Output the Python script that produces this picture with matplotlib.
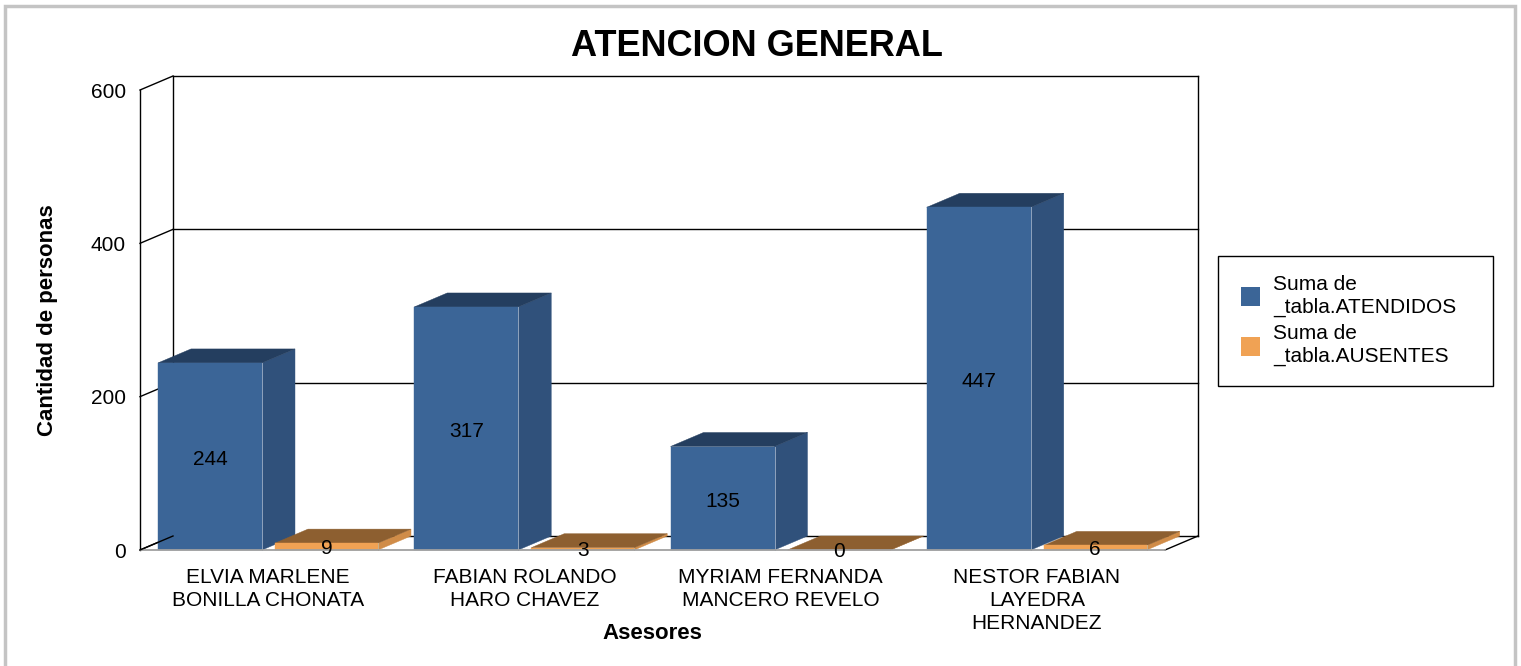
import matplotlib
matplotlib.use("Agg")
import matplotlib.pyplot as plt
from matplotlib.patches import Polygon, Rectangle

plt.rcParams['font.family'] = ['Liberation Sans', 'DejaVu Sans']

# datos
asesores = ['ELVIA MARLENE\nBONILLA CHONATA', 'FABIAN ROLANDO\nHARO CHAVEZ',
            'MYRIAM FERNANDA\nMANCERO REVELO', 'NESTOR FABIAN\nLAYEDRA\nHERNANDEZ']
atendidos = [244, 317, 135, 447]
ausentes = [9, 3, 0, 6]
yticks = [0, 200, 400, 600]
serie_nombres = ['Suma de\n_tabla.ATENDIDOS', 'Suma de\n_tabla.AUSENTES']

W, H = 1521, 666
fig = plt.figure(figsize=(W / 100, H / 100), dpi=100)
fig.patch.set_facecolor('white')

# marco gris exterior
fig.patches.append(Rectangle((5 / W, -0.05), 1510 / W, 1.05 - 6 / H, transform=fig.transFigure,
                             fill=False, edgecolor='#c4c4c4', linewidth=2.5))

ax = fig.add_axes([140 / W, 116 / H, 1025 / W, 460 / H])
ax.set_xlim(0, len(asesores))
ax.set_ylim(0, 600)
for s in ax.spines.values():
    s.set_visible(False)

# profundidad 3d (en unidades de datos)
DX = 33 / 256.25
DY = 14 / (460 / 600)
n = len(asesores)

# paredes y rejilla
lk = dict(color='black', linewidth=1.0, clip_on=False, zorder=1)
ax.plot([DX, DX], [DY, 600 + DY], **lk)
ax.plot([n + DX, n + DX], [DY, 600 + DY], **lk)
ax.plot([0, 0], [0, 600], **lk)
for v in yticks:
    ax.plot([DX, n + DX], [v + DY, v + DY], **lk)
    ax.plot([0, DX], [v, v + DY], **lk)
ax.plot([n, n + DX], [0, DY], **lk)


def caja(x0, w, h, c_front, c_side, c_top, c_edge, z):
    front = [(x0, 0), (x0 + w, 0), (x0 + w, h), (x0, h)]
    side = [(x0 + w, 0), (x0 + w + DX, DY), (x0 + w + DX, h + DY), (x0 + w, h)]
    top = [(x0, h), (x0 + w, h), (x0 + w + DX, h + DY), (x0 + DX, h + DY)]
    ax.add_patch(Polygon(side, closed=True, facecolor=c_side, edgecolor=c_side, lw=0.3, clip_on=False, zorder=z))
    ax.add_patch(Polygon(top, closed=True, facecolor=c_top, edgecolor=c_top, lw=0.3, clip_on=False, zorder=z))
    ax.add_patch(Polygon(front, closed=True, facecolor=c_front, edgecolor=c_front, lw=0.3, clip_on=False, zorder=z))
    ax.plot([x0 + w, x0 + w], [0, h], color=c_edge, lw=0.7, clip_on=False, zorder=z + 0.1)


azul = ('#3b6597', '#30517b', '#243e5f', '#8fa3bd')
naranja = ('#f0a254', '#d08c48', '#8d5f30', '#c9b08a')
wb, wo = 104 / 256.25, 103 / 256.25
for i in range(n):
    xb = i + 18 / 256.25
    xo = i + 135 / 256.25
    caja(xb, wb, atendidos[i], *azul, z=3 + i)
    caja(xo, wo, ausentes[i], *naranja, z=3.5 + i)
    ax.text(xb + wb / 2, atendidos[i] / 2 - 4, str(atendidos[i]), ha='center', va='center',
            fontsize=15, zorder=20)
    ax.text(xo + wo / 2, ausentes[i] / 2 - 2, str(ausentes[i]), ha='center', va='center',
            fontsize=15, zorder=20)

# borde frontal del piso
ax.plot([0, n], [0, 0], color='#a0a0a0', lw=1.3, clip_on=False, zorder=15)
ax.plot([0, DX], [0, DY], color='black', lw=1.0, clip_on=False, zorder=15)

ax.set_yticks(yticks)
ax.set_yticklabels([str(v) for v in yticks], fontsize=15)
ax.set_xticks([i + 0.5 for i in range(n)])
ax.set_xticklabels(asesores, fontsize=15, linespacing=1.25)
ax.tick_params(axis='both', length=0)
ax.tick_params(axis='y', pad=10)
ax.tick_params(axis='x', pad=13)

ax.set_ylabel('Cantidad de personas', fontsize=16, fontweight='bold')
ax.yaxis.set_label_coords(-0.08, 0.5)
ax.set_xlabel('Asesores', fontsize=16, fontweight='bold')
ax.xaxis.set_label_coords(0.5, -0.158)

fig.text(757 / W, 1 - 47 / H, 'ATENCION GENERAL', ha='center', va='center',
         fontsize=26, fontweight='bold')

# leyenda
fig.patches.append(Rectangle((1218 / W, 1 - 386 / H), 275 / W, 130 / H, transform=fig.transFigure,
                             facecolor='white', edgecolor='black', linewidth=1.0))
for k, (nombre, col) in enumerate(zip(serie_nombres, [azul[0], naranja[0]])):
    yc = 297 + 49 * k
    fig.patches.append(Rectangle((1241 / W, 1 - (yc + 9.5) / H), 19 / W, 19 / H,
                                 transform=fig.transFigure, facecolor=col, edgecolor='none'))
    fig.text(1273 / W, 1 - (yc - 1) / H, nombre, ha='left', va='center', fontsize=15,
             linespacing=1.25)

fig.savefig('out.png', dpi=100, facecolor='white')
